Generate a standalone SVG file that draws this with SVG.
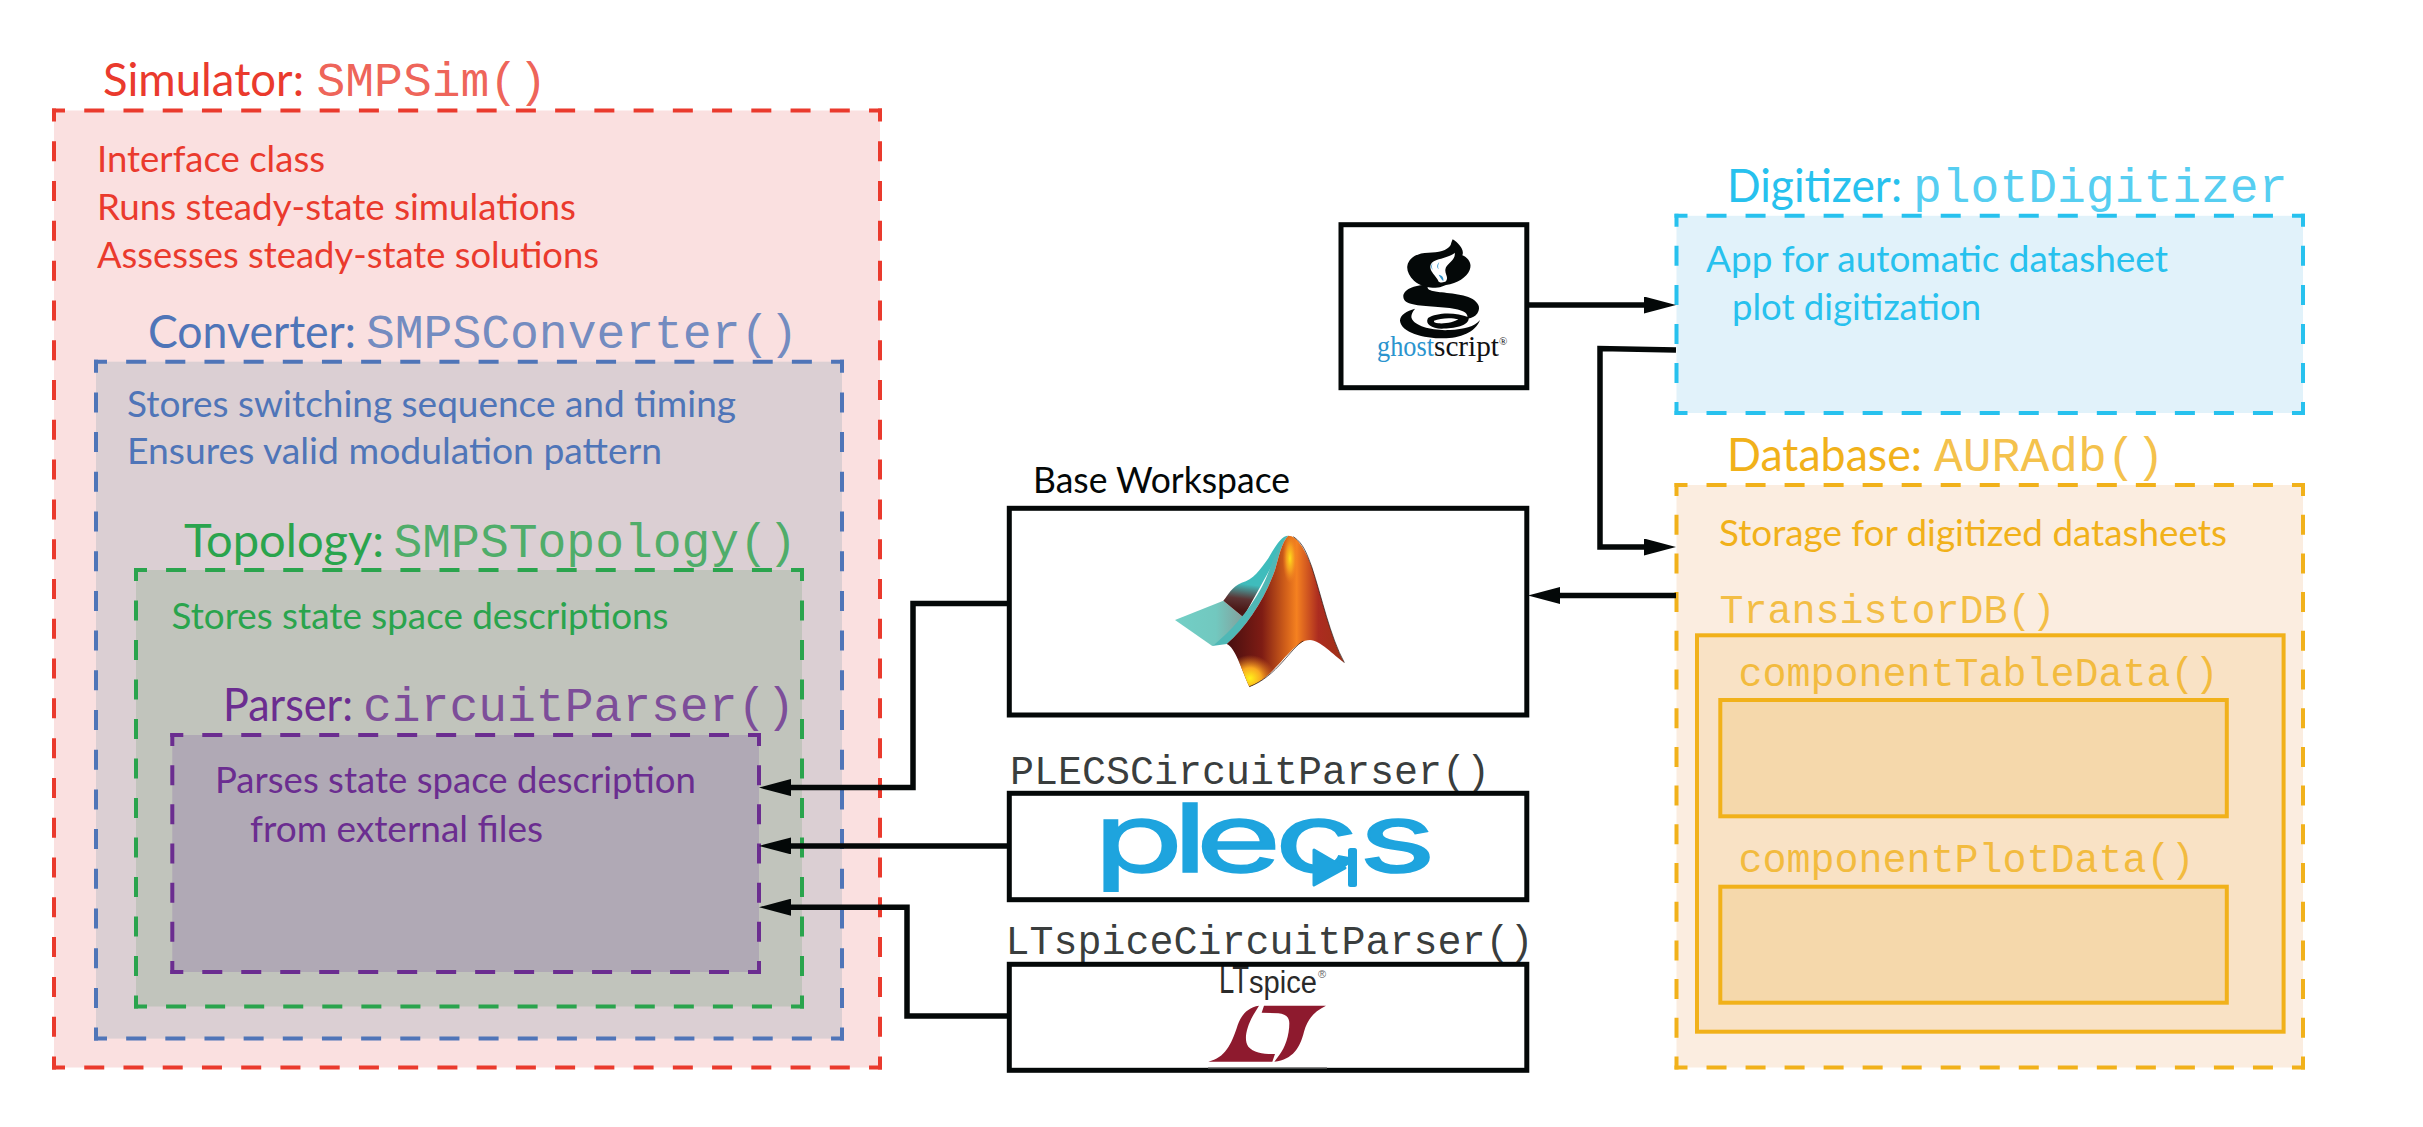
<svg xmlns="http://www.w3.org/2000/svg" width="2423" height="1127" viewBox="0 0 2423 1127">
<style>
.c{font-family:"Lato","Carlito","Liberation Sans",sans-serif}
.m{font-family:"Liberation Mono","Courier New",monospace;fill-opacity:.8}
.t{font-size:47px}
.b{font-size:37.5px}
.mt{font-size:48px}
.ms{font-size:40px}
.d{fill:none;stroke-width:4;stroke-dashoffset:7}
.box{fill:#fff;stroke:#040808;stroke-width:5}
.solid{stroke:#F1B11A;stroke-width:4}
.red{fill:#EA3A2D}.rs{stroke:#EA3A2D}
.blue{fill:#4F75B8}.bs{stroke:#4F75B8}
.green{fill:#2AA44D}.gs{stroke:#2AA44D}
.pur{fill:#6B2D90}.ps{stroke:#6B2D90}
.cy{fill:#27C1EE}.cs{stroke:#27C1EE}
.or{fill:#F1B11A}.os{stroke:#F1B11A}
.conn{fill:none;stroke:#040808;stroke-width:5.5}
</style>
<defs>
<marker id="ah" markerUnits="userSpaceOnUse" markerWidth="32" markerHeight="17" viewBox="0 0 32 17" refX="4" refY="8.5" orient="auto"><path d="M0 0L32 8.5L0 17Z" fill="#040808"/></marker>
<linearGradient id="tealG" gradientUnits="userSpaceOnUse" x1="45" y1="0" x2="250" y2="0"><stop offset="0" stop-color="#72CFC6"/><stop offset=".6" stop-color="#72C8BF"/><stop offset="1" stop-color="#83A09C"/></linearGradient>
<linearGradient id="foldG" gradientUnits="userSpaceOnUse" x1="235" y1="160" x2="225" y2="240"><stop offset="0" stop-color="#3FBCBC"/><stop offset=".55" stop-color="#5C3434"/><stop offset="1" stop-color="#4A1614"/></linearGradient>
<linearGradient id="bodyG" gradientUnits="userSpaceOnUse" x1="215" y1="0" x2="540" y2="0"><stop offset="0" stop-color="#4E1010"/><stop offset=".28" stop-color="#7E1C14"/><stop offset=".5" stop-color="#D2601A"/><stop offset=".6" stop-color="#F58120"/><stop offset=".8" stop-color="#AC2C20"/><stop offset="1" stop-color="#A03018"/></linearGradient>
<radialGradient id="peakG" gradientUnits="userSpaceOnUse" cx="0" cy="0" r="1" gradientTransform="translate(390 85) scale(22 75)"><stop offset="0" stop-color="#FFE01A"/><stop offset=".5" stop-color="#FAA820" stop-opacity=".8"/><stop offset="1" stop-color="#F58120" stop-opacity="0"/></radialGradient>
<radialGradient id="lowG" gradientUnits="userSpaceOnUse" cx="0" cy="0" r="1" gradientTransform="translate(270 445) scale(75 70)"><stop offset="0" stop-color="#FFF21A"/><stop offset=".45" stop-color="#F9A820"/><stop offset="1" stop-color="#F58120" stop-opacity="0"/></radialGradient>
<clipPath id="bodyC"><path d="M385 17C410 17 435 55 455 110C485 200 510 320 553 398C520 375 480 330 450 330C395 330 350 440 268 470C245 420 225 350 200 342C260 290 315 205 345 120C355 85 365 35 385 17Z"/></clipPath>
</defs>

<g id="node-simulator">
<rect x="54" y="110.5" width="826" height="957" fill="#FAE0E0"/>
<path class="d rs" stroke-dasharray="20 19.24" d="M52 110.5H882M52 1067.5H882"/>
<path class="d rs" stroke-dasharray="20 19.79" d="M54 108.5V1069.5M880 108.5V1069.5"/>
<text class="c t red" x="103" y="96" textLength="201" lengthAdjust="spacingAndGlyphs">Simulator:</text>
<text class="m mt red" x="316.5" y="96">SMPSim()</text>
<text class="c b red" x="97" y="171.7" textLength="228" lengthAdjust="spacingAndGlyphs">Interface class</text>
<text class="c b red" x="97" y="220" textLength="479" lengthAdjust="spacingAndGlyphs">Runs steady-state simulations</text>
<text class="c b red" x="97" y="268" textLength="502" lengthAdjust="spacingAndGlyphs">Assesses steady-state solutions</text>
</g>

<g id="node-converter">
<rect x="96" y="361.7" width="746" height="676.9" fill="#DBCFD3"/>
<path class="d bs" stroke-dasharray="20 19.16" d="M94 361.7H844M94 1038.6H844"/>
<path class="d bs" stroke-dasharray="20 19.7" d="M96 359.7V1040.6M842 359.7V1040.6"/>
<text class="c t blue" x="148" y="348.3" textLength="208" lengthAdjust="spacingAndGlyphs">Converter:</text>
<text class="m mt blue" x="366" y="348.3">SMPSConverter()</text>
<text class="c b blue" x="127" y="416.7" textLength="609" lengthAdjust="spacingAndGlyphs">Stores switching sequence and timing</text>
<text class="c b blue" x="127" y="464.3" textLength="535" lengthAdjust="spacingAndGlyphs">Ensures valid modulation pattern</text>
</g>

<g id="node-topology">
<rect x="136" y="570" width="666" height="436.5" fill="#C1C4BC"/>
<path class="d gs" stroke-dasharray="20 19.06" d="M134 570H804M134 1006.5H804"/>
<path class="d gs" stroke-dasharray="20 19.5" d="M136 568V1008.5M802 568V1008.5"/>
<text class="c t green" x="184" y="556.5" textLength="200" lengthAdjust="spacingAndGlyphs">Topology:</text>
<text class="m mt green" x="393.5" y="556.5">SMPSTopology()</text>
<text class="c b green" x="171.5" y="628.6" textLength="497" lengthAdjust="spacingAndGlyphs">Stores state space descriptions</text>
</g>

<g id="node-parser">
<rect x="172.3" y="735" width="586.7" height="237" fill="#B0A9B5"/>
<path class="d ps" stroke-dasharray="20 18.98" d="M170.3 735H761M170.3 972H761"/>
<path class="d ps" stroke-dasharray="20 19.17" d="M172.3 733V974M759 733V974"/>
<text class="c t pur" x="223" y="721" textLength="130" lengthAdjust="spacingAndGlyphs">Parser:</text>
<text class="m mt pur" x="363" y="721">circuitParser()</text>
<text class="c b pur" x="215" y="793.4" textLength="481" lengthAdjust="spacingAndGlyphs">Parses state space description</text>
<text class="c b pur" x="250" y="841.7" textLength="293" lengthAdjust="spacingAndGlyphs">from external files</text>
</g>

<g id="node-digitizer">
<rect x="1676.5" y="215.8" width="626.5" height="197.2" fill="#E1F2FA"/>
<path class="d cs" stroke-dasharray="20 19.03" d="M1674.5 215.8H2305M1674.5 413H2305"/>
<path class="d cs" stroke-dasharray="20 19.04" d="M1676.5 213.8V415M2303 213.8V415"/>
<text class="c t cy" x="1727" y="202.4" textLength="175" lengthAdjust="spacingAndGlyphs">Digitizer:</text>
<text class="m mt cy" x="1913" y="202.4">plotDigitizer</text>
<text class="c b cy" x="1706" y="271.7" textLength="462" lengthAdjust="spacingAndGlyphs">App for automatic datasheet</text>
<text class="c b cy" x="1732" y="320.3" textLength="249" lengthAdjust="spacingAndGlyphs">plot digitization</text>
</g>

<g id="node-database">
<rect x="1676.5" y="485" width="626.5" height="582.5" fill="#FBEDE0"/>
<path class="d os" stroke-dasharray="20 19.03" d="M1674.5 485H2305M1674.5 1067.5H2305"/>
<path class="d os" stroke-dasharray="20 18.7" d="M1676.5 483V1069.5M2303 483V1069.5"/>
<text class="c t or" x="1727" y="470.7" textLength="195" lengthAdjust="spacingAndGlyphs">Database:</text>
<text class="m mt or" x="1934" y="470.7">AURAdb()</text>
<text class="c b or" x="1719" y="546" textLength="508" lengthAdjust="spacingAndGlyphs">Storage for digitized datasheets</text>
<text class="m ms or" x="1719.5" y="623">TransistorDB()</text>
</g>

<g id="node-transistordb">
<rect class="solid" x="1697" y="635.3" width="586.6" height="396.4" fill="#F9E2C5"/>
<text class="m ms or" x="1738.5" y="686">componentTableData()</text>
<rect class="solid" x="1720.3" y="700" width="506.5" height="116.3" fill="#F5D8AB"/>
<text class="m ms or" x="1738.5" y="871.7">componentPlotData()</text>
<rect class="solid" x="1720.3" y="886.7" width="506.5" height="116" fill="#F5D8AB"/>
</g>

<g id="node-ghostscript">
<rect class="box" x="1341" y="224.7" width="185.8" height="163"/>
<g transform="translate(1360 230) scale(.33333)">
<path fill="#040808" d="M142 108C146 82 175 68 205 68C235 68 262 62 272 45C274 38 276 33 278 28C297 40 314 60 307 76C325 84 337 100 329 120C320 142 292 160 258 165L240 172C225 176 182 172 162 152C147 138 140 122 142 108Z"/>
<path fill="#fff" d="M284 68C275 78 250 84 230 90C214 95 208 105 212 118C217 132 228 138 236 155C245 160 252 157 258 154C268 138 250 130 258 112C266 97 288 88 284 68Z"/>
<path fill="#2E93CD" d="M218 100C212 106 212 114 218 120C215 112 215 106 218 100ZM238 96C230 104 230 112 236 118C233 110 234 104 238 96ZM236 134C246 136 252 142 250 154C244 146 240 142 236 134Z"/>
<path fill="#040808" d="M205 164C160 164 129 180 130 200C131 225 175 226 225 230C270 234 330 236 322 266C352 264 362 238 355 225C342 196 285 192 245 187C220 183 195 182 205 164Z"/>
<path fill="#040808" d="M165 236C140 243 120 255 120 272C123 307 190 325 250 325C300 325 347 307 360 270C345 290 310 298 270 300C220 303 165 290 155 265C152 255 158 245 165 236Z"/>
<path fill="#040808" d="M326 262C290 246 230 246 204 264C194 282 215 296 245 296C280 296 330 288 326 262Z"/>
<path fill="#fff" d="M222 272C240 264 275 262 295 268C285 276 255 282 235 280C226 279 220 276 222 272Z"/>
</g>
<text x="1377" y="356" font-family="Liberation Serif,serif" font-size="30" fill="#2B94CE" textLength="57" lengthAdjust="spacingAndGlyphs">ghost</text>
<text x="1434" y="356" font-family="Liberation Serif,serif" font-size="30" fill="#111" textLength="65" lengthAdjust="spacingAndGlyphs">script</text>
<text x="1499" y="345" font-family="Liberation Serif,serif" font-size="11" fill="#111">®</text>
</g>

<g id="node-workspace">
<rect class="box" x="1009.3" y="508.3" width="517.5" height="206.7"/>
<text class="c b" x="1033" y="493.3" fill="#040808" textLength="257" lengthAdjust="spacingAndGlyphs">Base Workspace</text>
<g transform="translate(1160 530) scale(.33333)">
<path fill="url(#tealG)" d="M45 270L190 212L250 262C225 295 190 330 157 348Z"/>
<path fill="url(#foldG)" d="M190 212C205 195 215 170 245 158C280 150 300 120 325 85C345 50 360 25 378 18L345 90L250 262Z"/>
<path fill="#4FB8B6" d="M378 18C354 45 338 95 320 140C288 215 225 295 157 348L200 342C260 290 315 205 345 120C355 85 365 35 385 17Z"/>
<path fill="url(#bodyG)" d="M385 17C410 17 435 55 455 110C485 200 510 320 553 398C520 375 480 330 450 330C395 330 350 440 268 470C245 420 225 350 200 342C260 290 315 205 345 120C355 85 365 35 385 17Z"/>
<g clip-path="url(#bodyC)"><rect x="350" y="10" width="80" height="170" fill="url(#peakG)"/><rect x="190" y="370" width="170" height="110" fill="url(#lowG)"/></g>
<path fill="none" stroke="#1a0a08" stroke-width="2" d="M400 20C430 40 440 70 455 110C485 200 510 320 553 398M268 470C350 440 395 350 430 333"/>
</g>
</g>

<g id="node-plecs">
<rect class="box" x="1009.3" y="793.3" width="517.5" height="106.4"/>
<text id="plecs-wordmark" transform="translate(1104 871.7) scale(1.55 1)" x="-7 44 59 110 164" y="0" font-family="Inter,'Noto Sans',sans-serif" font-size="95" fill="#1EA4DE" stroke="#1EA4DE" stroke-width="1.5">plecs</text>
<path fill="#1EA4DE" stroke="#1EA4DE" stroke-width="3" stroke-linejoin="round" d="M1314 850L1345 868L1314 885Z"/>
<rect x="1348" y="848" width="9" height="39" rx="2.5" fill="#1EA4DE"/>
</g>

<g id="node-ltspice">
<text x="1219" y="993" font-family="Liberation Sans,sans-serif" font-size="38" fill="#2a2a2a" textLength="30" lengthAdjust="spacingAndGlyphs">LT</text>
<text x="1249" y="993" font-family="Liberation Sans,sans-serif" font-size="31" fill="#2a2a2a" textLength="68" lengthAdjust="spacingAndGlyphs">spice</text>
<text x="1318" y="978" font-family="Liberation Sans,sans-serif" font-size="11" fill="#666">®</text>
<rect class="box" style="fill:none" x="1009.3" y="964.3" width="517.5" height="106"/>
<rect x="1208" y="1067" width="119" height="1.5" fill="#888"/>
<g transform="translate(1190 960) scale(.33333)" fill="#8E1A2E">
<path d="M55 305C105 295 125 250 140 205C150 170 170 142 207 137L190 165C170 200 160 240 175 260C190 278 225 283 255 282L247 305Z"/>
<path d="M222 137L408 137C370 155 352 180 342 215C330 262 310 298 253 305L268 285C285 265 298 225 298 190C298 170 285 162 265 160L215 158Z"/>
</g>
<text class="m ms" x="1005.5" y="954.3" fill="#040808">LTspiceCircuitParser()</text>
<text class="m ms" x="1010" y="784.3" fill="#040808">PLECSCircuitParser()</text>
</g>

<g id="connectors">
<path class="conn" marker-end="url(#ah)" d="M1527 305H1648"/>
<path class="conn" marker-end="url(#ah)" d="M1676 350L1600 348.5V547H1648"/>
<path class="conn" marker-end="url(#ah)" d="M1676 595.5H1556"/>
<path class="conn" marker-end="url(#ah)" d="M1009 603.4H913V787.6H787"/>
<path class="conn" marker-end="url(#ah)" d="M1009 845.9H787"/>
<path class="conn" marker-end="url(#ah)" d="M1009 1015.9H907V907.2H787"/>
</g>
</svg>
